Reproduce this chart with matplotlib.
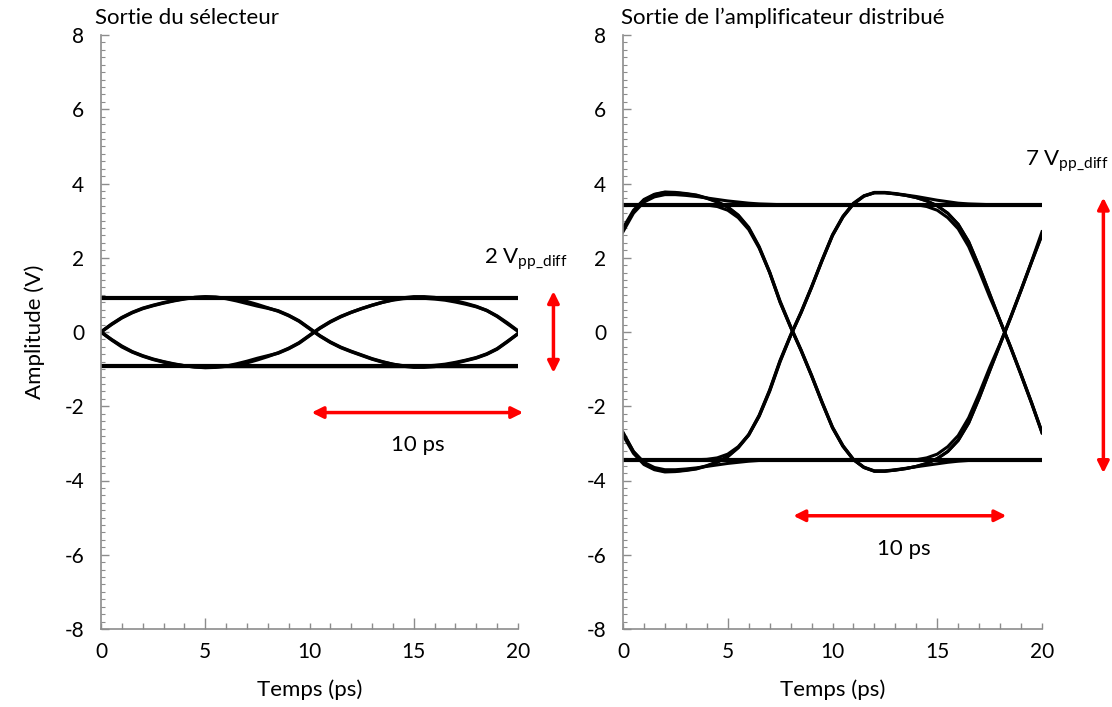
import matplotlib
matplotlib.use("Agg")
import matplotlib.pyplot as plt
from matplotlib.ticker import MultipleLocator

plt.rcParams['font.family'] = ['Lato', 'DejaVu Sans']
plt.rcParams['mathtext.fontset'] = 'custom'
plt.rcParams['mathtext.rm'] = 'Lato'
plt.rcParams['mathtext.it'] = 'Lato'

# time grid shared by every trace (ps)
t = [0, 0.5, 1, 1.5, 2, 2.5, 3, 3.5, 4, 4.5, 5, 5.5, 6, 6.5, 7, 7.5, 8, 8.5, 9, 9.5,
     10, 10.5, 11, 11.5, 12, 12.5, 13, 13.5, 14, 14.5, 15, 15.5, 16, 16.5, 17, 17.5,
     18, 18.5, 19, 19.5, 20]

# --- selector output (V) ---
sel_high = 0.91
sel_low = -0.92
sel_traces = [
    # rise / fall / rise
    [0, 0.2, 0.38, 0.52, 0.63, 0.71, 0.78, 0.84, 0.89, 0.93, 0.95, 0.94, 0.9, 0.84, 0.77, 0.7,
     0.64, 0.57, 0.45, 0.3, 0.1, -0.1, -0.27, -0.41, -0.52, -0.62, -0.72, -0.8, -0.87, -0.92,
     -0.95, -0.95, -0.93, -0.89, -0.84, -0.77, -0.7, -0.6, -0.46, -0.26, -0.04],
    # fall / rise / fall
    [0, -0.2, -0.38, -0.53, -0.64, -0.73, -0.8, -0.86, -0.91, -0.94, -0.96, -0.95, -0.92, -0.86,
     -0.79, -0.71, -0.64, -0.57, -0.45, -0.3, -0.1, 0.1, 0.27, 0.41, 0.53, 0.63, 0.72, 0.8, 0.87,
     0.92, 0.95, 0.95, 0.93, 0.89, 0.84, 0.77, 0.69, 0.58, 0.42, 0.22, 0.02],
    # rise, stay high, fall
    [0, 0.21, 0.39, 0.53, 0.64, 0.72, 0.79, 0.85, 0.9, 0.93, 0.94, 0.93, 0.92, 0.92, 0.92, 0.92,
     0.92, 0.92, 0.92, 0.92, 0.92, 0.92, 0.92, 0.92, 0.92, 0.92, 0.92, 0.92, 0.92, 0.92, 0.92,
     0.91, 0.89, 0.86, 0.81, 0.75, 0.68, 0.58, 0.43, 0.24, 0.03],
    # fall, stay low, rise
    [0, -0.21, -0.4, -0.54, -0.65, -0.74, -0.81, -0.87, -0.91, -0.94, -0.95, -0.94, -0.93, -0.93,
     -0.93, -0.93, -0.93, -0.93, -0.93, -0.93, -0.93, -0.93, -0.93, -0.93, -0.93, -0.93, -0.93,
     -0.93, -0.93, -0.93, -0.93, -0.92, -0.9, -0.87, -0.82, -0.76, -0.69, -0.59, -0.45, -0.25, -0.05],
    # high run, fall, settle low
    [0.91, 0.91, 0.91, 0.91, 0.91, 0.91, 0.91, 0.91, 0.91, 0.91, 0.91, 0.91, 0.91, 0.88, 0.82,
     0.74, 0.65, 0.56, 0.44, 0.29, 0.09, -0.11, -0.28, -0.42, -0.53, -0.63, -0.73, -0.81, -0.87,
     -0.91, -0.93, -0.93, -0.93, -0.93, -0.93, -0.93, -0.93, -0.93, -0.93, -0.93, -0.93],
    # low run, rise, settle high
    [-0.92, -0.92, -0.92, -0.92, -0.92, -0.92, -0.92, -0.92, -0.92, -0.92, -0.92, -0.92, -0.92,
     -0.89, -0.83, -0.75, -0.66, -0.56, -0.44, -0.29, -0.09, 0.11, 0.28, 0.42, 0.53, 0.63, 0.72,
     0.8, 0.86, 0.9, 0.92, 0.92, 0.92, 0.92, 0.92, 0.92, 0.92, 0.92, 0.92, 0.92, 0.92],
]

# --- distributed amplifier output (V) ---
amp_high = 3.43
amp_low = -3.44
amp_traces = [
    # alternating, starts high
    [2.75, 3.25, 3.55, 3.7, 3.76, 3.75, 3.72, 3.68, 3.6, 3.5, 3.36, 3.14, 2.8, 2.28, 1.6, 0.8,
     0.13, -0.5, -1.18, -1.9, -2.58, -3.08, -3.44, -3.65, -3.75, -3.75, -3.72, -3.68, -3.62,
     -3.54, -3.41, -3.22, -2.92, -2.45, -1.78, -1.05, -0.33, 0.38, 1.12, 1.88, 2.62],
    # alternating, starts low
    [-2.78, -3.27, -3.57, -3.71, -3.77, -3.76, -3.73, -3.69, -3.61, -3.51, -3.36, -3.12, -2.78,
     -2.26, -1.58, -0.78, -0.1, 0.52, 1.2, 1.92, 2.6, 3.1, 3.45, 3.66, 3.75, 3.75, 3.72, 3.68,
     3.62, 3.53, 3.4, 3.2, 2.9, 2.43, 1.76, 1.03, 0.3, -0.4, -1.14, -1.9, -2.7],
    # starts high, falls, settles low
    [2.8, 3.28, 3.57, 3.71, 3.77, 3.76, 3.73, 3.69, 3.61, 3.51, 3.37, 3.15, 2.82, 2.3, 1.62, 0.83,
     0.15, -0.48, -1.16, -1.88, -2.56, -3.06, -3.43, -3.64, -3.74, -3.74, -3.71, -3.67, -3.63,
     -3.59, -3.55, -3.51, -3.48, -3.46, -3.45, -3.44, -3.44, -3.44, -3.44, -3.44, -3.44],
    # starts low, rises, settles high
    [-2.7, -3.22, -3.53, -3.69, -3.75, -3.75, -3.72, -3.68, -3.6, -3.5, -3.35, -3.11, -2.76,
     -2.24, -1.56, -0.76, -0.08, 0.54, 1.22, 1.94, 2.62, 3.12, 3.47, 3.67, 3.76, 3.76, 3.73, 3.69,
     3.65, 3.6, 3.55, 3.51, 3.47, 3.45, 3.44, 3.43, 3.43, 3.43, 3.43, 3.43, 3.43],
    # high run, falls, rises
    [3.43, 3.43, 3.43, 3.43, 3.43, 3.43, 3.43, 3.43, 3.42, 3.38, 3.28, 3.08, 2.76, 2.26, 1.6, 0.8,
     0.13, -0.5, -1.18, -1.9, -2.58, -3.08, -3.44, -3.65, -3.75, -3.75, -3.72, -3.68, -3.62,
     -3.54, -3.41, -3.22, -2.92, -2.45, -1.78, -1.05, -0.33, 0.38, 1.12, 1.88, 2.62],
    # low run, rises, falls
    [-3.44, -3.44, -3.44, -3.44, -3.44, -3.44, -3.44, -3.44, -3.43, -3.39, -3.29, -3.09, -2.77,
     -2.27, -1.6, -0.8, -0.1, 0.52, 1.2, 1.92, 2.6, 3.1, 3.45, 3.66, 3.75, 3.75, 3.72, 3.68,
     3.62, 3.53, 3.4, 3.2, 2.9, 2.43, 1.76, 1.03, 0.3, -0.4, -1.14, -1.9, -2.7],
    # overshoot, settles high, falls at the end
    [2.7, 3.2, 3.5, 3.64, 3.7, 3.7, 3.68, 3.65, 3.61, 3.57, 3.53, 3.5, 3.47, 3.45, 3.44, 3.43,
     3.43, 3.43, 3.43, 3.43, 3.43, 3.43, 3.43, 3.43, 3.43, 3.43, 3.43, 3.43, 3.43, 3.38, 3.28,
     3.08, 2.78, 2.3, 1.65, 0.95, 0.3, -0.42, -1.16, -1.92, -2.72],
    # undershoot, settles low, rises at the end
    [-2.72, -3.22, -3.51, -3.65, -3.71, -3.71, -3.69, -3.66, -3.62, -3.58, -3.54, -3.51, -3.48,
     -3.46, -3.45, -3.44, -3.44, -3.44, -3.44, -3.44, -3.44, -3.44, -3.44, -3.44, -3.44, -3.44,
     -3.44, -3.44, -3.44, -3.39, -3.29, -3.09, -2.79, -2.31, -1.66, -0.96, -0.31, 0.4, 1.14, 1.9,
     2.7],
]

titles = ["Sortie du sélecteur", "Sortie de l\u2019amplificateur distribué"]
red = "#ff0000"
gray = "#8c8c8c"
fs = 16

fig = plt.figure(figsize=(11.12, 7.07), dpi=100)
ax1 = fig.add_axes([101 / 1112, 1 - 629 / 707, 417 / 1112, 594 / 707])
ax2 = fig.add_axes([623 / 1112, 1 - 629 / 707, 419 / 1112, 594 / 707])


def style_axes(ax):
    ax.set_xlim(0, 20)
    ax.set_ylim(-8, 8)
    for side in ["top", "right"]:
        ax.spines[side].set_visible(False)
    for side in ["left", "bottom"]:
        ax.spines[side].set_color(gray)
        ax.spines[side].set_linewidth(1.2)
    ax.xaxis.set_major_locator(MultipleLocator(5))
    ax.xaxis.set_minor_locator(MultipleLocator(1))
    ax.yaxis.set_major_locator(MultipleLocator(2))
    ax.yaxis.set_minor_locator(MultipleLocator(0.2))
    ax.tick_params(axis="both", which="both", direction="in", color=gray, labelsize=15)
    ax.tick_params(axis="x", which="major", length=4, width=1, pad=9)
    ax.tick_params(axis="x", which="minor", length=4, width=1)
    ax.tick_params(axis="y", which="major", length=6, width=1, pad=12)
    ax.tick_params(axis="y", which="minor", length=3, width=0.8)
    ax.set_yticklabels([f"{v:g}" for v in ax.get_yticks()])
    # longer marks at 0, 10 and 20 ps
    for i, tk in enumerate(ax.xaxis.get_major_ticks()):
        if i % 2 == 0:
            tk.tick1line.set_markersize(8)
    ax.set_xlabel("Temps (ps)", fontsize=fs, labelpad=13)


style_axes(ax1)
style_axes(ax2)

ax1.axhline(sel_high, color="black", lw=3)
ax1.axhline(sel_low, color="black", lw=3)
for tr in sel_traces:
    ax1.plot(t, tr, color="black", lw=2.4)

ax2.axhline(amp_high, color="black", lw=3)
ax2.axhline(amp_low, color="black", lw=3)
for tr in amp_traces:
    ax2.plot(t, tr, color="black", lw=2.2)

ax1.set_ylabel("Amplitude (V)", fontsize=fs, labelpad=14)

fig.text(95 / 1112, 1 - 18 / 707, titles[0], fontsize=fs, va="center", ha="left")
fig.text(621 / 1112, 1 - 18 / 707, titles[1], fontsize=fs, va="center", ha="left")

arrow = dict(arrowstyle="<|-|>", color=red, lw=2.5, mutation_scale=17, shrinkA=0, shrinkB=0)

# peak-to-peak and bit period markers
ax1.annotate("", xy=(21.7, 1.1), xytext=(21.7, -1.1), arrowprops=arrow, annotation_clip=False)
ax1.text(20.4, 1.95, r"2 V$_{\mathrm{pp\_diff}}$", fontsize=fs, ha="center", va="center")
ax1.annotate("", xy=(10.1, -2.17), xytext=(20.25, -2.17), arrowprops=arrow, annotation_clip=False)
ax1.text(15.2, -3.05, "10 ps", fontsize=fs, ha="center", va="center")

ax2.annotate("", xy=(22.93, 3.62), xytext=(22.93, -3.8), arrowprops=arrow, annotation_clip=False)
ax2.text(21.2, 4.6, r"7 V$_{\mathrm{pp\_diff}}$", fontsize=fs, ha="center", va="center")
ax2.annotate("", xy=(8.13, -4.95), xytext=(18.3, -4.95), arrowprops=arrow, annotation_clip=False)
ax2.text(13.4, -5.85, "10 ps", fontsize=fs, ha="center", va="center")

fig.savefig("out.png", dpi=100)
